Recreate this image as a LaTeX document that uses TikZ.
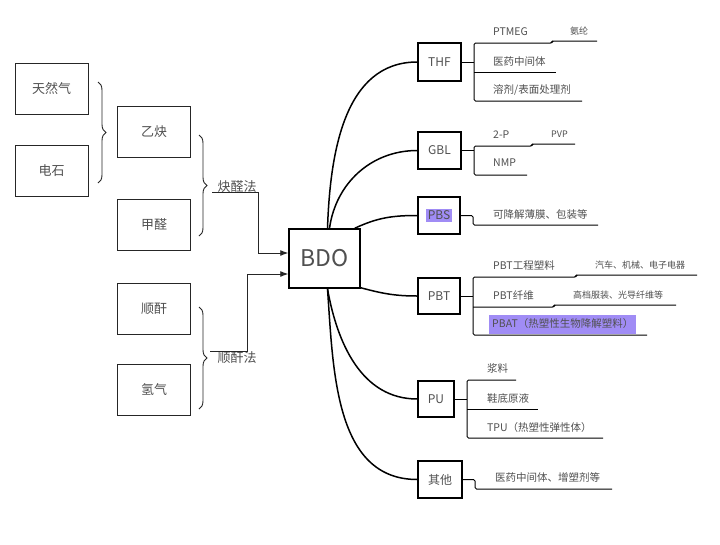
\documentclass[tikz,border=0pt]{standalone}
\usepackage{fontspec}
\setmainfont{Noto Sans CJK SC}
\usetikzlibrary{arrows,arrows.meta,decorations.pathreplacing}
\definecolor{txtgray}{HTML}{505050}
\definecolor{hlpurple}{HTML}{A08CF5}
\tikzset{
  srcbox/.style={draw=black!85, line width=0.9pt, minimum width=73pt, minimum height=51pt, text=txtgray, font=\fontsize{13}{15}\selectfont},
  prodbox/.style={draw, line width=1.5pt, minimum height=37pt, text=txtgray, font=\fontsize{12}{14}\selectfont},
  leaf/.style={anchor=west, inner sep=0pt, text height=8pt, text depth=2pt, text=txtgray, font=\fontsize{10.5}{12}\selectfont},
  leafsmall/.style={leaf, font=\fontsize{9}{11}\selectfont},
  curly/.style={decorate, decoration={brace, amplitude=8pt}, line width=0.9pt, draw=black!85},
  route/.style={line width=0.9pt, draw=black!85, -{Latex[length=8pt,width=6pt]}},
  bdolink/.style={line width=1.5pt},
  twig/.style={line width=1pt, rounded corners=1.5pt},
}
\begin{document}
\begin{tikzpicture}[x=1pt,y=-1pt]
\fill[white] (0,0) rectangle (720,544);

\node[srcbox] (gas) at (51.5,88.5) {天然气};
\node[srcbox] (carbide) at (51.5,170.5) {电石};
\node[srcbox] (acetylene) at (154,131.5) {乙炔};
\node[srcbox] (formaldehyde) at (154,224.5) {甲醛};
\node[srcbox] (anhydride) at (154,308.5) {顺酐};
\node[srcbox] (hydrogen) at (154,390) {氢气};

\draw[curly] (98,82) -- (98,183);
\draw[curly] (199,135) -- (199,236);
\draw[curly] (199,307) -- (199,409);

\node[draw, line width=1.5pt, minimum width=71pt, minimum height=59pt, text=txtgray, font=\fontsize{23}{26}\selectfont] (bdo) at (324.5,258.5) {BDO};

\node[text=txtgray, font=\fontsize{13}{15}\selectfont, inner sep=0pt] (alkyne) at (237,187) {炔醛法};
\node[text=txtgray, font=\fontsize{13}{15}\selectfont, inner sep=0pt] (maleic) at (237,358) {顺酐法};
\draw[route] (212,192) -- (258,192) -- (258,253) -- ([yshift=5.5pt]bdo.west);
\draw[route] (210,351) -- (247,351) -- (247,274) -- ([yshift=-15.5pt]bdo.west);

\node[prodbox, minimum width=43pt, minimum height=38pt] (thf) at (439.5,62) {THF};
\node[prodbox, minimum width=43pt] (gbl) at (439.5,150.5) {GBL};
\node[prodbox, minimum width=42pt] (pbs) at (439,215.5) {\setlength{\fboxsep}{2pt}\colorbox{hlpurple}{PBS}};
\node[prodbox, minimum width=42pt, minimum height=36pt] (pbt) at (439,296) {PBT};
\node[prodbox, minimum width=36pt, minimum height=36pt] (pu) at (436,399) {PU};
\node[prodbox, minimum width=44pt] (other) at (440,479.5) {其他};

\draw[bdolink] ([xshift=3pt]bdo.north) to[out=88,in=180] (thf.west);
\draw[bdolink] ([xshift=5pt]bdo.north) to[out=82,in=180] (gbl.west);
\draw[bdolink] ([xshift=-6pt]bdo.north east) to[out=25,in=180] (pbs.west);
\draw[bdolink] ([yshift=1pt]bdo.south east) to[out=-15,in=180] (pbt.west);
\draw[bdolink] ([xshift=3pt]bdo.south) to[out=-80,in=180] (pu.west);
\draw[bdolink] ([xshift=3pt]bdo.south) to[out=-86,in=180] (other.west);

\node[leaf] (ptmeg) at (493,32) {PTMEG};
\node[leafsmall] (spandex) at (570,31) {氨纶};
\node[leaf] (pharma) at (493,62) {医药中间体};
\node[leaf] (solvent) at (493,90) {溶剂/表面处理剂};
\draw[twig] (thf.east) -- (474,62);
\draw[twig] (597,41) -- (552,41) -- (552,43) -- (474,43) -- (474,101) -- (582,101);
\draw[twig] (474,72) -- (556,72);

\node[leaf] (twop) at (493,135) {2-P};
\node[leafsmall] (pvp) at (551,134) {PVP};
\node[leaf] (nmp) at (493,163) {NMP};
\draw[twig] (gbl.east) -- (474,150.5);
\draw[twig] (575,144) -- (532,144) -- (532,146) -- (474,146) -- (474,175) -- (527,175);

\node[leaf] (film) at (493,215) {可降解薄膜、包装等};
\draw[twig] (pbs.east) -- (473,215.5) -- (473,225) -- (598,225);

\node[leaf] (plastic) at (493,266) {PBT工程塑料};
\node[leafsmall] (auto) at (595,265) {汽车、机械、电子电器};
\node[leaf] (fiber) at (493,296) {PBT纤维};
\node[leafsmall] (apparel) at (573,295) {高档服装、光导纤维等};
\node[leaf, fill=hlpurple, inner xsep=3pt, inner ysep=4.5pt] (pbat) at (489,324.5) {PBAT（热塑性生物降解塑料）};
\draw[twig] (pbt.east) -- (473,296);
\draw[twig] (697,275) -- (576,275) -- (576,277) -- (473,277) -- (473,335) -- (647,335);
\draw[twig] (473,307) -- (554,307) -- (554,305) -- (676,305);

\node[leaf] (slurry) at (487,369) {浆料};
\node[leaf] (sole) at (487,399) {鞋底原液};
\node[leaf] (tpu) at (487,428) {TPU（热塑性弹性体）};
\draw[twig] (pu.east) -- (467,399);
\draw[twig] (516,380) -- (467,380) -- (467,438) -- (603,438);
\draw[twig] (467,409) -- (538,409);

\node[leaf] (plasticizer) at (495,478) {医药中间体、增塑剂等};
\draw[twig] (other.east) -- (475,479.5) -- (475,489) -- (612,489);
\end{tikzpicture}
\end{document}
